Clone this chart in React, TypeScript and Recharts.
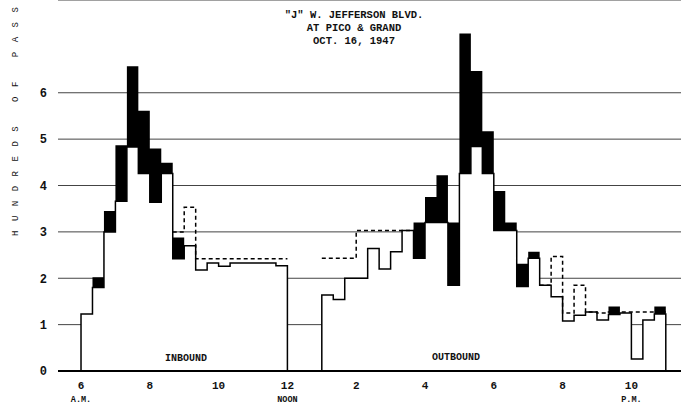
import { ComposedChart, Area, Line, XAxis, YAxis, CartesianGrid } from "recharts";

// counts are taken in 20-minute periods (hundreds of passengers)
const PERIOD = 1 / 3;

// inbound, 6:00 A.M. to noon
const INBOUND_START = 6;
const inboundBase = [1.23, 1.8, 3.0, 3.66, 4.83, 4.26, 3.64, 4.26, 2.42, 2.7, 2.18, 2.33, 2.26, 2.33, 2.33, 2.33, 2.33, 2.27];
const inboundTop = [null, 2.02, 3.45, 4.87, 6.57, 5.61, 4.8, 4.49, 2.88, null, null, null, null, null, null, null, null, null];
const inboundDash = [null, null, null, null, null, null, null, null, 3.0, 3.53, 2.42, 2.42, 2.42, 2.42, 2.42, 2.42, 2.42, 2.42];
const inboundDashEnd = 2.42;

// outbound, 1:00 P.M. to 11:00 P.M.
const OUTBOUND_START = 13;
const outboundBase = [
  1.64, 1.54, 2.0, 2.0, 2.64, 2.2, 2.57, 3.03, 2.43, 3.2,
  3.2, 1.85, 4.26, 4.84, 4.26, 3.03, 3.03, 1.82, 2.43, 1.85,
  1.6, 1.08, 1.2, 1.27, 1.1, 1.22, 1.25, 0.26, 1.1, 1.23,
];
const outboundTop = [
  null, null, null, null, null, null, null, null, 3.2, 3.75,
  4.22, 3.2, 7.28, 6.47, 5.17, 3.88, 3.2, 2.31, 2.57, null,
  null, null, null, null, null, 1.39, null, null, null, 1.39,
];
const outboundDash = [
  2.43, 2.43, 2.43, 3.03, 3.03, 3.03, 3.03, 3.03, 3.03, null,
  null, null, null, null, null, null, null, null, null, 1.85,
  2.47, 1.25, 1.85, 1.27, 1.25, 1.27, 1.27, 1.27, 1.27, 1.27,
];
const outboundDashEnd = 1.27;

const hourTicks = [6, 8, 10, 12, 14, 16, 18, 20, 22];
const hourLabels = ["6", "8", "10", "12", "2", "4", "6", "8", "10"];
const hourSubLabels: Record<number, string> = { 6: "A.M.", 12: "NOON", 22: "P.M." };
const yTicks = [0, 1, 2, 3, 4, 5, 6];

const titleLines = ['"J" W. JEFFERSON BLVD.', "AT PICO & GRAND", "OCT. 16, 1947"];
const yTitle = "HUNDREDS OF PASSENGERS";

type Row = { t: number; base: number; band: [number, number]; dash: number | null };

function buildRows(start: number, base: number[], top: (number | null)[], dash: (number | null)[], dashEnd: number): Row[] {
  const rows: Row[] = [{ t: start, base: 0, band: [0, 0], dash: null }];
  base.forEach((b, i) => {
    const tp = top[i];
    rows.push({ t: start + i * PERIOD, base: b, band: [b, tp ?? b], dash: dash[i] });
  });
  rows.push({ t: start + base.length * PERIOD, base: 0, band: [0, 0], dash: dashEnd });
  return rows;
}

const data: Row[] = [
  ...buildRows(INBOUND_START, inboundBase, inboundTop, inboundDash, inboundDashEnd),
  ...buildRows(OUTBOUND_START, outboundBase, outboundTop, outboundDash, outboundDashEnd),
];

const MONO = "'Liberation Mono', 'DejaVu Sans Mono', monospace";

const XTick = (props: any) => {
  const { x, payload } = props;
  const i = hourTicks.indexOf(payload.value);
  const sub = hourSubLabels[payload.value];
  return (
    <g>
      <text x={x} y={389} textAnchor="middle" fontFamily={MONO} fontWeight="bold" fontSize={11} fill="#111">
        {hourLabels[i]}
      </text>
      {sub && (
        <text x={x} y={402} textAnchor="middle" fontFamily={MONO} fontWeight="bold" fontSize={8.5} fill="#111">
          {sub}
        </text>
      )}
    </g>
  );
};

const YTick = (props: any) => {
  const { y, payload } = props;
  return (
    <text x={47} y={y} dy="0.36em" textAnchor="end" fontFamily={MONO} fontWeight="bold" fontSize={12} fill="#111">
      {payload.value}
    </text>
  );
};

export default function App() {
  return (
    <div style={{ position: "absolute", left: 0, top: 0, width: 681, height: 407, background: "#fff" }}>
      <ComposedChart width={681} height={407} data={data} margin={{ top: 0, right: 0, bottom: 0, left: 0 }}>
        <CartesianGrid horizontal vertical={false} stroke="#444" strokeWidth={1} />
        <XAxis
          type="number"
          dataKey="t"
          domain={[5.331, 23.442]}
          ticks={hourTicks}
          allowDataOverflow
          height={36}
          axisLine={{ stroke: "#000", strokeWidth: 2 }}
          tickLine={false}
          tick={<XTick />}
          interval={0}
        />
        <YAxis
          type="number"
          domain={[0, 8]}
          ticks={yTicks}
          width={58}
          axisLine={false}
          tickLine={false}
          tick={<YTick />}
          interval={0}
        />
        <Area
          type="stepAfter"
          dataKey="base"
          stroke="#000"
          strokeWidth={1.5}
          fill="#fff"
          fillOpacity={1}
          isAnimationActive={false}
          dot={false}
          activeDot={false}
        />
        <Area
          type="stepAfter"
          dataKey="band"
          stroke="none"
          fill="#000"
          fillOpacity={1}
          isAnimationActive={false}
          dot={false}
          activeDot={false}
        />
        <Line
          type="stepAfter"
          dataKey="dash"
          stroke="#000"
          strokeWidth={1.5}
          strokeDasharray="4 3"
          dot={false}
          activeDot={false}
          connectNulls={false}
          isAnimationActive={false}
        />
      </ComposedChart>
      <svg width={681} height={407} style={{ position: "absolute", left: 0, top: 0, pointerEvents: "none" }}>
        {titleLines.map((t, i) => (
          <text key={t} x={354} y={18 + i * 13} textAnchor="middle" fontFamily={MONO} fontWeight="bold" fontSize={10.5} fill="#111">
            {t}
          </text>
        ))}
        <text
          transform="translate(18, 236) rotate(-90)"
          fontFamily={MONO}
          fontSize={9}
          letterSpacing={9.5}
          fill="#111"
        >
          {yTitle}
        </text>
        <text x={186} y={361} textAnchor="middle" fontFamily={MONO} fontWeight="bold" fontSize={10} fill="#111">
          INBOUND
        </text>
        <text x={456} y={360} textAnchor="middle" fontFamily={MONO} fontWeight="bold" fontSize={10} fill="#111">
          OUTBOUND
        </text>
      </svg>
    </div>
  );
}
